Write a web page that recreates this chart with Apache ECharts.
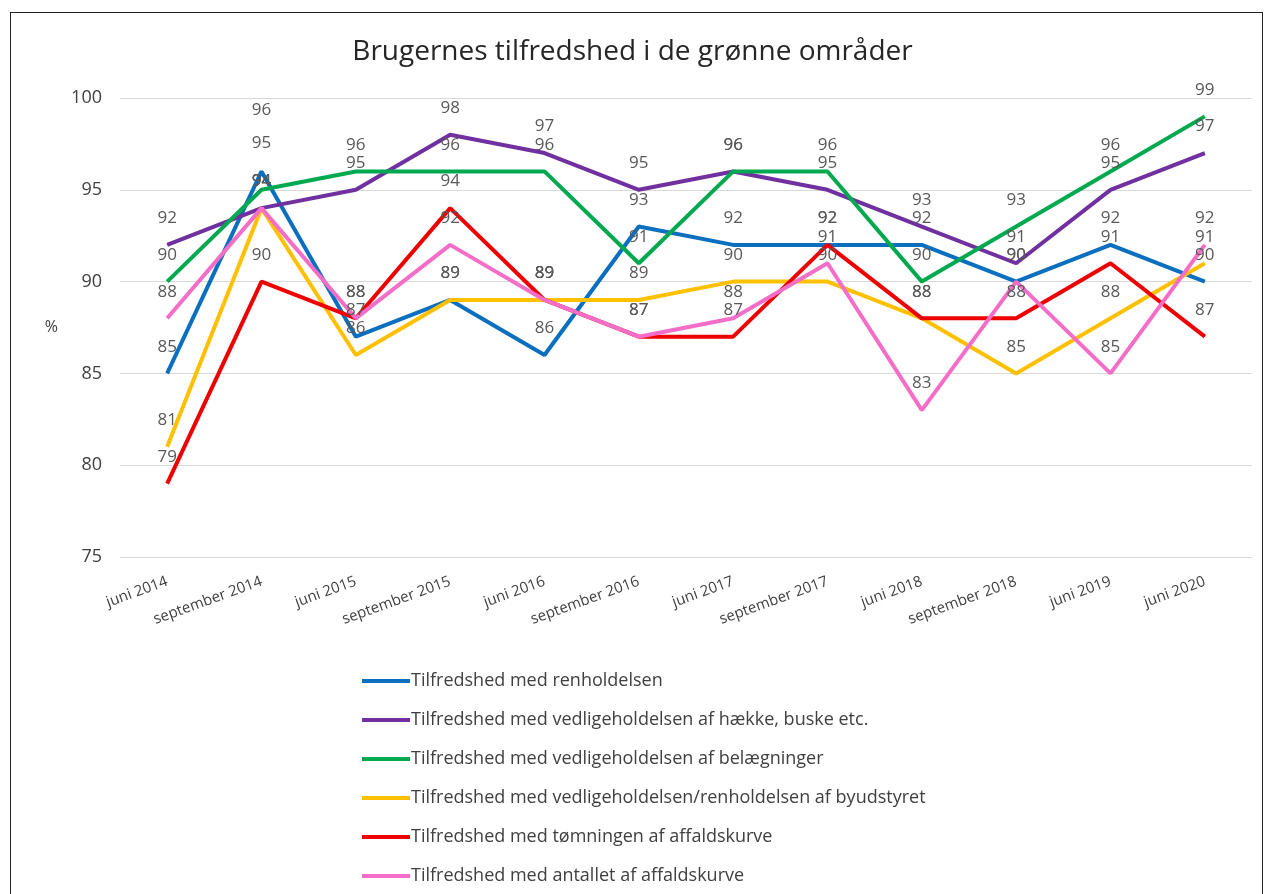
<!DOCTYPE html>
<html lang="da">
	<head>
		<meta charset="UTF-8" />
		<title>Brugernes tilfredshed</title>
		<script src="https://cdn.jsdelivr.net/npm/echarts@6.0.0/dist/echarts.min.js"></script>
		<style>
			html, body { margin: 0; padding: 0; background: #fff; }
			#chart { width: 1265px; height: 894px; }
			#frame {
				position: absolute; left: 10px; top: 12px; width: 1251px; height: 900px;
				border: 1px solid #222; pointer-events: none;
			}
		</style>
	</head>
	<body>
		<div id="chart"></div>
		<div id="frame"></div>
		<script>
			const categories = ['juni 2014', 'september 2014', 'juni 2015', 'september 2015', 'juni 2016', 'september 2016',
				'juni 2017', 'september 2017', 'juni 2018', 'september 2018', 'juni 2019', 'juni 2020']
			const yTicks = [75, 80, 85, 90, 95, 100]

			const renholdelsen = [85, 96, 87, 89, 86, 93, 92, 92, 92, 90, 92, 90]
			const haekke = [92, 94, 95, 98, 97, 95, 96, 95, 93, 91, 95, 97]
			const belaegninger = [90, 95, 96, 96, 96, 91, 96, 96, 90, 93, 96, 99]
			const byudstyret = [81, 94, 86, 89, 89, 89, 90, 90, 88, 85, 88, 91]
			const toemningen = [79, 90, 88, 94, 89, 87, 87, 92, 88, 88, 91, 87]
			const antallet = [88, 94, 88, 92, 89, 87, 88, 91, 83, 90, 85, 92]

			const seriesDefs = [
				{ name: 'Tilfredshed med renholdelsen', data: renholdelsen, color: '#0b6fbf' },
				{ name: 'Tilfredshed med vedligeholdelsen af hække, buske etc.', data: haekke, color: '#7030a0' },
				{ name: 'Tilfredshed med vedligeholdelsen af belægninger', data: belaegninger, color: '#00a84f' },
				{ name: 'Tilfredshed med vedligeholdelsen/renholdelsen af byudstyret', data: byudstyret, color: '#ffc000' },
				{ name: 'Tilfredshed med tømningen af affaldskurve', data: toemningen, color: '#ee0000' },
				{ name: 'Tilfredshed med antallet af affaldskurve', data: antallet, color: '#f46ec8' }
			]

			// labels that were dragged up in the original (sept 2014), [series, point, dy]
			const labelNudges = [[0, 1, -35], [2, 1, -20]]

			const font = '"Open Sans", sans-serif'
			const chart = echarts.init(document.getElementById('chart'), null, { renderer: 'canvas' })

			function nudgeFor(si) {
				return function (params) {
					const n = labelNudges.find(function (x) { return x[0] === si && x[1] === params.dataIndex })
					return n ? { dy: n[2], hideOverlap: false } : { hideOverlap: false }
				}
			}

			const option = {
				animation: false,
				textStyle: { fontFamily: font },
				title: {
					text: 'Brugernes tilfredshed i de grønne områder',
					left: 'center',
					top: 33,
					textStyle: { fontFamily: font, fontSize: 28, fontWeight: 'normal', color: '#262626' }
				},
				grid: { left: 120, right: 13, top: 98, bottom: 337 },
				legend: {
					orient: 'vertical',
					left: 357,
					top: 667,
					icon: 'rect',
					itemWidth: 48,
					itemHeight: 4,
					itemGap: 21,
					textStyle: { fontFamily: font, fontSize: 18, color: '#404040', padding: [0, 0, 0, -4] },
					data: seriesDefs.map(function (s) { return s.name })
				},
				xAxis: {
					type: 'category',
					data: categories,
					boundaryGap: true,
					axisLine: { show: true, lineStyle: { color: '#d9d9d9' } },
					axisTick: { show: false },
					axisLabel: {
						interval: 0,
						rotate: 20,
						margin: 24,
						fontFamily: font,
						fontSize: 15,
						color: '#404040'
					}
				},
				yAxis: {
					type: 'value',
					min: yTicks[0],
					max: yTicks[yTicks.length - 1],
					interval: 5,
					name: '%',
					nameLocation: 'middle',
					nameRotate: 0,
					nameGap: 62,
					nameTextStyle: { fontFamily: font, fontSize: 16, color: '#404040' },
					axisLine: { show: false },
					axisTick: { show: false },
					axisLabel: { fontFamily: font, fontSize: 18, color: '#404040', margin: 18 },
					splitLine: { lineStyle: { color: '#d9d9d9', width: 1 } }
				},
				series: seriesDefs.map(function (s, si) {
					return {
						name: s.name,
						type: 'line',
						data: s.data,
						symbol: 'circle',
						symbolSize: 0.1,
						showSymbol: true,
						color: s.color,
						itemStyle: { color: s.color },
						lineStyle: { width: 4, color: s.color },
						labelLayout: nudgeFor(si),
						label: {
							show: true,
							position: 'top',
							distance: 18,
							fontFamily: font,
							fontSize: 17,
							color: '#595959'
						}
					}
				})
			}
			chart.setOption(option)
		</script>
	</body>
</html>
